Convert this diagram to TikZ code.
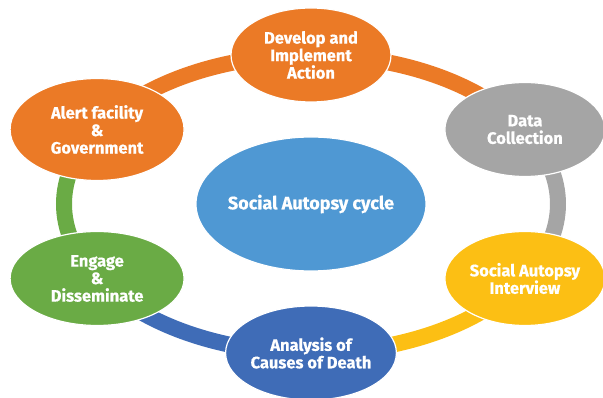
\documentclass[tikz,border=0pt]{standalone}
\usepackage{fontspec}
\setmainfont{Fira Sans}[BoldFeatures={FakeBold=0.6}]
\usetikzlibrary{shapes.geometric}
\pgfdeclarelayer{background}
\pgfsetlayers{background,main}
\definecolor{saOrange}{HTML}{EB7A26}
\definecolor{saGray}{HTML}{A5A5A5}
\definecolor{saYellow}{HTML}{FCBF14}
\definecolor{saBlue}{HTML}{3F6CB7}
\definecolor{saGreen}{HTML}{6AAB45}
\definecolor{saSky}{HTML}{4F98D3}
\begin{document}
\begin{tikzpicture}[
  stage/.style={ellipse, draw=white, line width=1.2pt, inner sep=0pt,
    minimum width=160pt, minimum height=94pt, text=white, align=center,
    font=\bfseries\fontsize{16.5}{17.5}\selectfont},
  wide/.style={minimum width=174pt},
  link/.style={line width=16pt},
  ring/.style={x radius=247pt, y radius=149pt},
]
\useasboundingbox (-311pt,-194pt) rectangle (292pt,204pt);

% centre of the cycle
\node[stage, fill=saSky, minimum width=230pt, minimum height=134pt,
  font=\bfseries\fontsize{18}{20}\selectfont] (hub) at (0,0)
  {\makebox[0pt]{Social Autopsy cycle}};

% the six stages, placed on the ring
\node[stage, fill=saOrange] (develop) at (90:247pt and 149pt) {Develop and\\Implement\\Action};
\node[stage, fill=saGray] (data) at (30:247pt and 149pt) {Data\\Collection};
\node[stage, fill=saYellow] (interview) at (-30:247pt and 149pt) {Social Autopsy\\Interview};
\node[stage, fill=saBlue] (analysis) at (-90:247pt and 149pt) {Analysis of\\Causes of Death};
\node[stage, wide, fill=saGreen] (engage) at (210:247pt and 149pt) {Engage\\\&\\Disseminate};
\node[stage, wide, fill=saOrange, minimum height=102pt] (alert) at (150:247pt and 149pt) {Alert facility\\\&\\Government};

% ring segments, each in the colour of the stage it leaves
\begin{pgfonlayer}{background}
\draw[link, saOrange] (develop.center) arc[ring, start angle=90, end angle=30];
\draw[link, saGray] (data.center) arc[ring, start angle=30, end angle=-30];
\draw[link, saYellow] (interview.center) arc[ring, start angle=-30, end angle=-90];
\draw[link, saBlue] (analysis.center) arc[ring, start angle=270, end angle=210];
\draw[link, saGreen] (engage.center) arc[ring, start angle=210, end angle=150];
\draw[link, saOrange] (alert.center) arc[ring, start angle=150, end angle=90];
\end{pgfonlayer}
\end{tikzpicture}
\end{document}
